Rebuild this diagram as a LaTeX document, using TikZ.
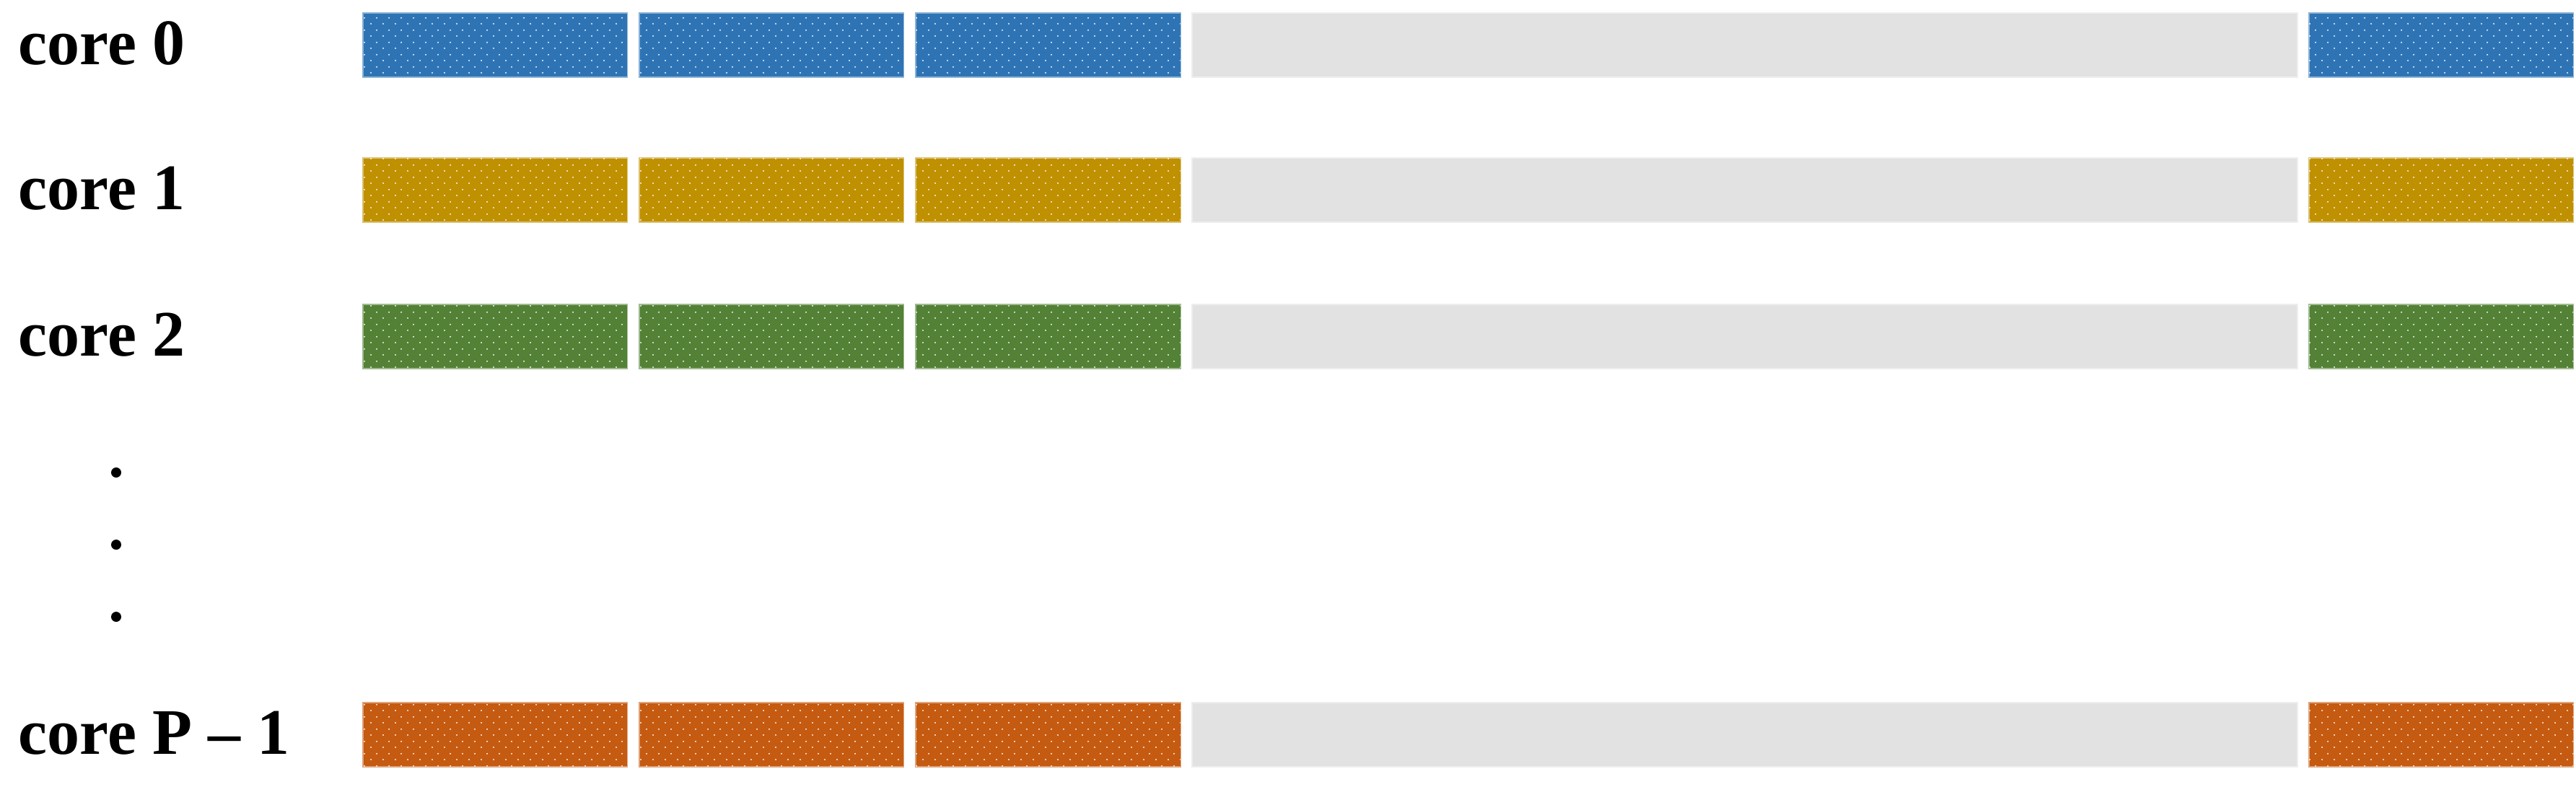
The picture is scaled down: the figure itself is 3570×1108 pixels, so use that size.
\documentclass[tikz,border=0pt]{standalone}
\usepackage{fontspec}
\setmainfont{Liberation Serif}
\usetikzlibrary{patterns.meta}
\definecolor{cblue}{HTML}{2E74B5}
\definecolor{cgold}{HTML}{BF9000}
\definecolor{cgreen}{HTML}{538135}
\definecolor{corange}{HTML}{C55A11}
\definecolor{cgray}{HTML}{E2E2E2}
\tikzdeclarepattern{name=sdots, type=uncolored,
  bounding box={(0cm,0cm) and (0.17cm,0.17cm)},
  tile size={(0.17cm,0.17cm)},
  code={\fill (0.0425cm,0.0425cm) circle (0.011cm);
        \fill (0.1275cm,0.1275cm) circle (0.011cm);}}
\tikzset{
  blk/.style={rectangle, inner sep=0pt, outer sep=0pt, anchor=north west,
    minimum height=0.89cm, fill=#1, draw=#1!55!white, line width=0.4pt,
    postaction={pattern=sdots, pattern color=white}},
  idle/.style={rectangle, inner sep=0pt, outer sep=0pt, anchor=north west,
    minimum height=0.89cm, minimum width=15.31cm, fill=cgray, draw=cgray!60!white, line width=0.4pt},
  lbl/.style={inner sep=0pt, anchor=base west, font=\bfseries\fontsize{25.6}{30}\selectfont},
  vdot/.style={circle, fill=black, inner sep=0pt, minimum size=0.14cm}
}
\begin{document}
\begin{tikzpicture}[x=0.01cm, y=-0.01cm]
\useasboundingbox (0,0) rectangle (3570,1108);
\foreach \r/\top/\col/\txt in {0/18/cblue/{core 0}, 1/219/cgold/{core 1}, 2/422/cgreen/{core 2}, 3/974/corange/{core P – 1}}{
  \node[lbl] (lab\r) at (25,\top+71) {\txt};
  \node[blk=\col, minimum width=3.66cm] (a\r) at (503,\top) {};
  \node[blk=\col, minimum width=3.66cm] (b\r) at (886,\top) {};
  \node[blk=\col, minimum width=3.67cm] (c\r) at (1269,\top) {};
  \node[idle] (g\r) at (1652,\top) {};
  \node[blk=\col, minimum width=3.66cm] (d\r) at (3200,\top) {};
}
\node[vdot] (v1) at (161,655) {};
\node[vdot] (v2) at (161,755) {};
\node[vdot] (v3) at (161,855) {};
\end{tikzpicture}
\end{document}
